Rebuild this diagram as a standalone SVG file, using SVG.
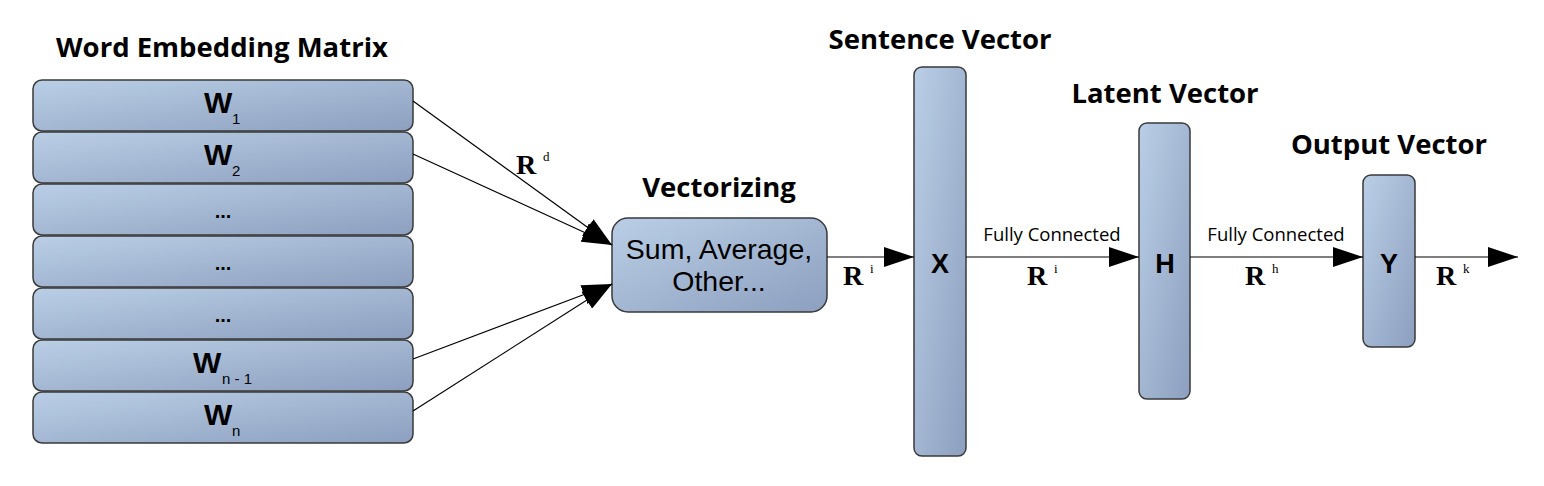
<svg xmlns="http://www.w3.org/2000/svg" width="1544" height="486" viewBox="0 0 1544 486">
<defs>
<linearGradient id="g" x1="0" y1="0" x2="1" y2="1">
<stop offset="0" stop-color="#bacfe6"/>
<stop offset="1" stop-color="#8c9fbf"/>
</linearGradient>
<marker id="ah" viewBox="0 0 30 20" refX="30" refY="10" markerWidth="30" markerHeight="20" markerUnits="userSpaceOnUse" orient="auto">
<path d="M0,0 L30,10 L0,20 Z" fill="#000"/>
</marker>
<style>
.box{fill:url(#g);stroke:#3a3a3a;stroke-width:1.5}
.title{font-family:"Open Sans","DejaVu Sans",sans-serif;font-weight:bold;font-size:27.5px;text-anchor:middle;fill:#000}
.w{font-family:"Liberation Sans",Arial,sans-serif;font-weight:bold;font-size:30px;fill:#000}
.sub{font-family:"Liberation Sans",Arial,sans-serif;font-size:15px;fill:#000}
.dots{font-family:"Liberation Sans",Arial,sans-serif;font-weight:bold;font-size:20px;text-anchor:middle;fill:#000}
.big{font-family:"Liberation Sans",Arial,sans-serif;font-weight:bold;font-size:27px;text-anchor:middle;fill:#000}
.body{font-family:"Liberation Sans",Arial,sans-serif;font-size:28.5px;text-anchor:middle;fill:#000}
.fc{font-family:"Open Sans","DejaVu Sans",sans-serif;font-size:18.5px;text-anchor:middle;fill:#000}
.r{font-family:"Liberation Serif","Times New Roman",serif;font-weight:bold;font-size:28px;fill:#000}
.rs{font-family:"Liberation Serif","Times New Roman",serif;font-size:13px;fill:#000}
.ln{stroke:#000;stroke-width:1.2;fill:none}
</style>
</defs>

<text class="title" x="222" y="57">Word Embedding Matrix</text>
<text class="title" x="940" y="49">Sentence Vector</text>
<text class="title" x="719" y="197">Vectorizing</text>
<text class="title" x="1165" y="103">Latent Vector</text>
<text class="title" x="1389" y="154">Output Vector</text>

<g id="w1"><rect class="box" x="33" y="80" width="380" height="51" rx="9"/><text class="w" x="204" y="113">W</text><text class="sub" x="232" y="124">1</text></g>
<g id="w2"><rect class="box" x="33" y="132" width="380" height="51" rx="9"/><text class="w" x="204" y="165">W</text><text class="sub" x="232" y="176">2</text></g>
<g id="w3"><rect class="box" x="33" y="184" width="380" height="51" rx="9"/><text class="dots" x="223" y="218">...</text></g>
<g id="w4"><rect class="box" x="33" y="236" width="380" height="51" rx="9"/><text class="dots" x="223" y="270">...</text></g>
<g id="w5"><rect class="box" x="33" y="288" width="380" height="51" rx="9"/><text class="dots" x="223" y="322">...</text></g>
<g id="wn1"><rect class="box" x="33" y="340" width="380" height="51" rx="9"/><text class="w" x="193" y="373">W</text><text class="sub" x="222" y="384">n - 1</text></g>
<g id="wn"><rect class="box" x="33" y="392" width="380" height="51" rx="9"/><text class="w" x="204" y="425">W</text><text class="sub" x="232" y="436">n</text></g>

<g id="vec"><rect class="box" x="612" y="218" width="215" height="94" rx="16"/><text class="body" x="719" y="259">Sum, Average,</text><text class="body" x="719" y="291">Other...</text></g>
<g id="X"><rect class="box" x="914" y="67" width="52" height="389" rx="8"/><text class="big" x="940" y="273">X</text></g>
<g id="H"><rect class="box" x="1139" y="123" width="51" height="276" rx="8"/><text class="big" x="1165" y="273">H</text></g>
<g id="Y"><rect class="box" x="1363" y="175" width="52" height="172" rx="8"/><text class="big" x="1389" y="273">Y</text></g>

<g id="connectors">
<line class="ln" x1="413" y1="101" x2="612" y2="245" marker-end="url(#ah)"/>
<line class="ln" x1="413" y1="154" x2="612" y2="245" marker-end="url(#ah)"/>
<line class="ln" x1="413" y1="359" x2="612" y2="284" marker-end="url(#ah)"/>
<line class="ln" x1="413" y1="411" x2="612" y2="284" marker-end="url(#ah)"/>
<line class="ln" x1="827" y1="257" x2="914" y2="257" marker-end="url(#ah)"/>
<line class="ln" x1="966" y1="257" x2="1139" y2="257" marker-end="url(#ah)"/>
<line class="ln" x1="1190" y1="257" x2="1363" y2="257" marker-end="url(#ah)"/>
<line class="ln" x1="1415" y1="257" x2="1518" y2="257" marker-end="url(#ah)"/>
</g>

<g id="labels">
<text class="r" x="516" y="174">R</text><text class="rs" x="543" y="161">d</text>
<text class="r" x="843" y="285">R</text><text class="rs" x="870" y="273">i</text>
<text class="fc" x="1052" y="241">Fully Connected</text>
<text class="r" x="1027" y="285">R</text><text class="rs" x="1054" y="273">i</text>
<text class="fc" x="1276" y="241">Fully Connected</text>
<text class="r" x="1245" y="285">R</text><text class="rs" x="1272" y="273">h</text>
<text class="r" x="1436" y="285">R</text><text class="rs" x="1463" y="273">k</text>
</g>
</svg>
